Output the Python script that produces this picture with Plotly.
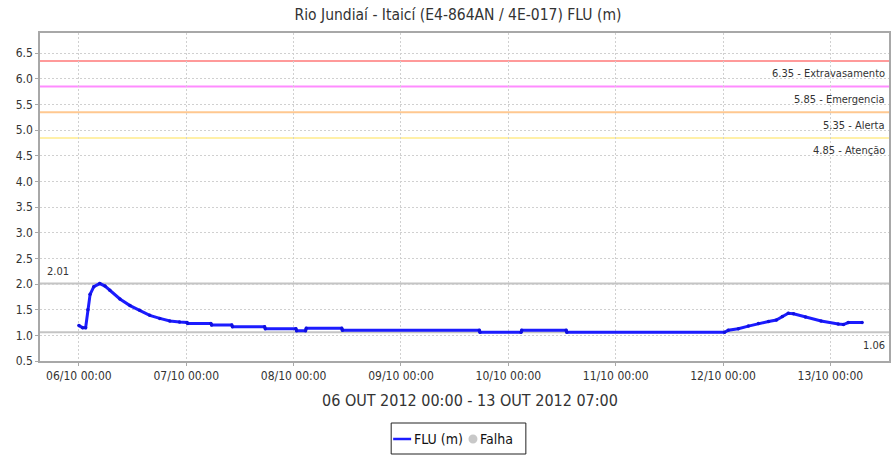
import plotly.graph_objects as go

# FLU (m) readings, Rio Jundiaí - Itaicí station
times = [
    "2012-10-06 00:00", "2012-10-06 00:50", "2012-10-06 01:30", "2012-10-06 02:00",
    "2012-10-06 02:30", "2012-10-06 03:20", "2012-10-06 04:40", "2012-10-06 05:50",
    "2012-10-06 06:55", "2012-10-06 09:10", "2012-10-06 11:25", "2012-10-06 13:35",
    "2012-10-06 15:50", "2012-10-06 18:05", "2012-10-06 20:20", "2012-10-06 22:30",
    "2012-10-07 00:10", "2012-10-07 00:20", "2012-10-07 05:30", "2012-10-07 05:40",
    "2012-10-07 10:10", "2012-10-07 10:20", "2012-10-07 17:30", "2012-10-07 17:40",
    "2012-10-08 00:30", "2012-10-08 00:40", "2012-10-08 02:40", "2012-10-08 02:50",
    "2012-10-08 10:45", "2012-10-08 10:55", "2012-10-09 17:30", "2012-10-09 17:40",
    "2012-10-10 02:50", "2012-10-10 03:00", "2012-10-10 12:55", "2012-10-10 13:05",
    "2012-10-12 00:20", "2012-10-12 01:10", "2012-10-12 03:25", "2012-10-12 05:40",
    "2012-10-12 07:55", "2012-10-12 10:10", "2012-10-12 11:55", "2012-10-12 13:15",
    "2012-10-12 14:35", "2012-10-12 15:45", "2012-10-12 18:25", "2012-10-12 21:55",
    "2012-10-13 01:45", "2012-10-13 02:55", "2012-10-13 04:00", "2012-10-13 07:05",
]
levels = [
    1.19, 1.15, 1.15, 1.50,
    1.80, 1.95, 2.01, 1.96,
    1.88, 1.71, 1.58, 1.49,
    1.39, 1.33, 1.28, 1.26,
    1.25, 1.23, 1.23, 1.20,
    1.20, 1.17, 1.17, 1.13,
    1.13, 1.09, 1.09, 1.14,
    1.14, 1.10, 1.10, 1.06,
    1.06, 1.10, 1.10, 1.06,
    1.06, 1.10, 1.13, 1.18,
    1.23, 1.27, 1.30, 1.37,
    1.43, 1.42, 1.36, 1.28,
    1.22, 1.21, 1.25, 1.25,
]

# Alert thresholds
thr_values = [6.35, 5.85, 5.35, 4.85]
thr_names = ["Extravasamento", "Emergencia", "Alerta", "Atenção"]
thr_colors = ["#ff9a9a", "#ff8cff", "#ffc890", "#fff0a8"]

max_level = 2.01
min_level = 1.06

y_ticks = [0.5, 1.0, 1.5, 2.0, 2.5, 3.0, 3.5, 4.0, 4.5, 5.0, 5.5, 6.0, 6.5]

FONT = "DejaVu Sans Condensed, Liberation Sans Narrow, DejaVu Sans, sans-serif"
TXT = "#333333"
LABEL_RIGHT = 0.9977  # right edge of the threshold labels, in paper units

fig = go.Figure()
fig.add_trace(go.Scatter(
    x=times, y=levels, mode="lines+markers", name="FLU (m)",
    line=dict(color="#1c1cff", width=3),
    marker=dict(size=3.5, color="#1010e0"),
    showlegend=False, hoverinfo="x+y",
))

shapes = []
annotations = []
for v, n, c in zip(thr_values, thr_names, thr_colors):
    shapes.append(dict(type="line", xref="paper", yref="y", x0=0, x1=1.02, y0=v, y1=v,
                       line=dict(color=c, width=2), layer="below"))
    annotations.append(dict(xref="paper", yref="y", x=LABEL_RIGHT, y=v, xanchor="right",
                            yanchor="middle", yshift=-13, showarrow=False,
                            text=f"{v:.2f} - {n}", font=dict(family=FONT, size=11, color=TXT)))

for v, xp, xa, ys in [(max_level, 0.006, "left", 12), (min_level, LABEL_RIGHT, "right", -13)]:
    shapes.append(dict(type="line", xref="paper", yref="y", x0=0, x1=1.02, y0=v, y1=v,
                       line=dict(color="#c4c4c4", width=2), layer="below"))
    annotations.append(dict(xref="paper", yref="y", x=xp, y=v, xanchor=xa, yanchor="middle",
                            yshift=ys, showarrow=False, text=f"{v:.2f}",
                            font=dict(family=FONT, size=11, color=TXT)))

# x axis caption
annotations.append(dict(xref="paper", yref="paper", x=0.5065, y=-0.119, xanchor="center",
                        yanchor="middle", showarrow=False,
                        text="06 OUT 2012 00:00 - 13 OUT 2012 07:00",
                        font=dict(family=FONT, size=16, color=TXT)))

# legend box drawn by hand
def px_x(p):
    return (p - 40) / 851.0

def px_y(p):
    return (361 - p) / 328.0

shapes.append(dict(type="rect", xref="paper", yref="paper", x0=px_x(392), x1=px_x(527),
                   y0=px_y(454), y1=px_y(423), line=dict(color="#222222", width=1),
                   fillcolor="white"))
shapes.append(dict(type="line", xref="paper", yref="paper", x0=px_x(394), x1=px_x(412),
                   y0=px_y(439), y1=px_y(439), line=dict(color="#1c1cff", width=2.5)))
shapes.append(dict(type="circle", xref="paper", yref="paper", x0=px_x(469.5), x1=px_x(478.5),
                   y0=px_y(443.5), y1=px_y(434.5), line=dict(color="#c8c8c8", width=0),
                   fillcolor="#c8c8c8"))
annotations.append(dict(xref="paper", yref="paper", x=px_x(413), y=px_y(439), xanchor="left",
                        yanchor="middle", showarrow=False, text="FLU (m)",
                        font=dict(family=FONT, size=14, color="#111111")))
annotations.append(dict(xref="paper", yref="paper", x=px_x(479), y=px_y(439), xanchor="left",
                        yanchor="middle", showarrow=False, text="Falha",
                        font=dict(family=FONT, size=14, color="#111111")))

fig.update_layout(
    width=891, height=456,
    margin=dict(l=40, r=0, t=33, b=95),
    paper_bgcolor="white", plot_bgcolor="white",
    font=dict(family=FONT, size=12, color=TXT),
    title=dict(text="Rio Jundiaí - Itaicí (E4-864AN / 4E-017) FLU (m)",
               xref="container", x=0.514, xanchor="center",
               yref="container", y=1 - 15 / 456, yanchor="middle",
               font=dict(family=FONT, size=15.5, color=TXT)),
    shapes=shapes, annotations=annotations,
    showlegend=False,
)
fig.update_xaxes(
    type="date",
    range=["2012-10-05 15:18", "2012-10-13 13:06"],
    tick0="2012-10-06", dtick=86400000, tickformat="%d/%m %H:%M",
    showgrid=True, gridcolor="#d0d0d0", griddash="2px,2px", gridwidth=1,
    showline=True, linecolor="#a8a8a8", linewidth=1.5, mirror=True,
    ticks="outside", ticklen=3, tickcolor="#a8a8a8",
    tickfont=dict(family=FONT, size=12, color=TXT),
    zeroline=False,
)
fig.update_yaxes(
    range=[0.5, 6.895],
    tickmode="array", tickvals=y_ticks, ticktext=[f"{t:.1f}" for t in y_ticks],
    showgrid=True, gridcolor="#d0d0d0", griddash="2px,2px", gridwidth=1,
    showline=True, linecolor="#a8a8a8", linewidth=1.5, mirror=True,
    ticks="outside", ticklen=3, tickcolor="#a8a8a8",
    tickfont=dict(family=FONT, size=12, color=TXT),
    zeroline=False,
)

fig.write_html("out.html")
